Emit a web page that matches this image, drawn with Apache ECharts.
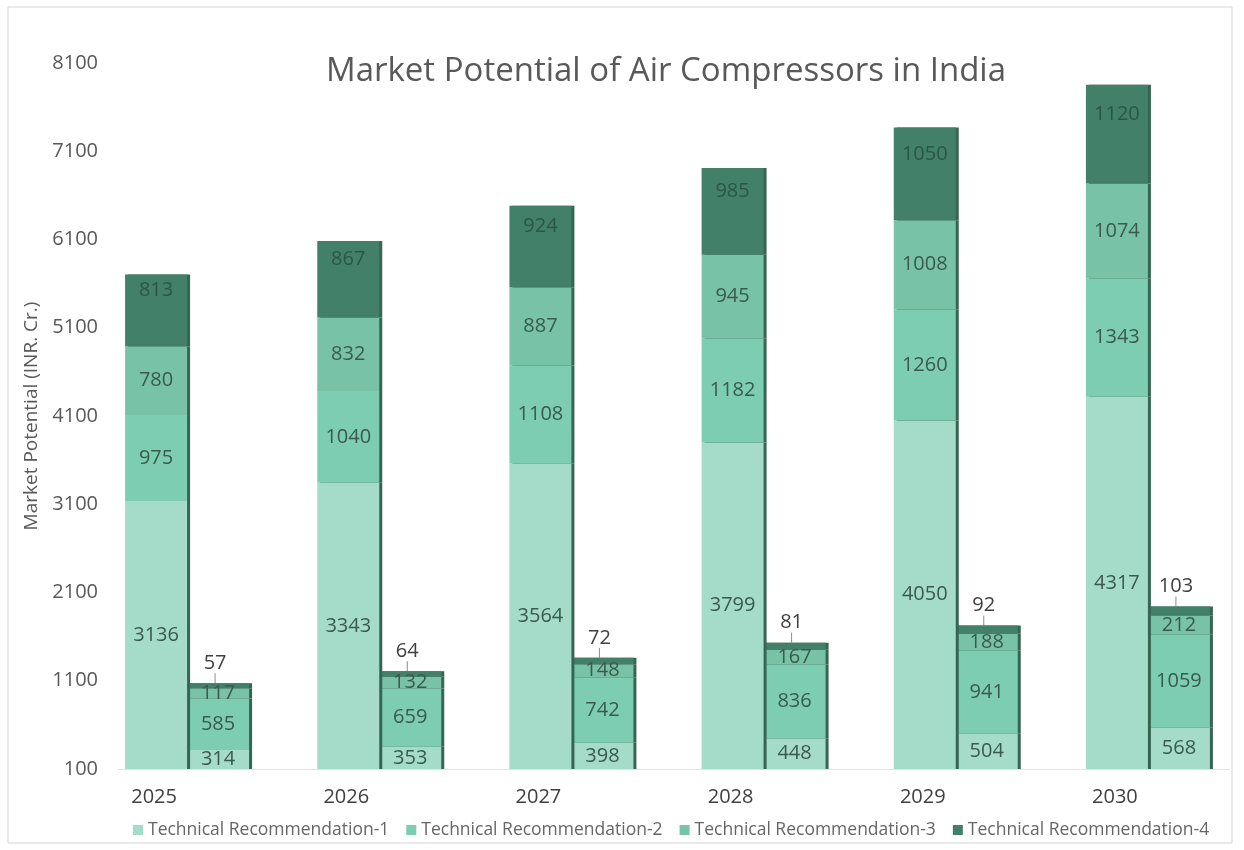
<!DOCTYPE html>
<html>
<head>
<meta charset="utf-8">
<script src="https://cdn.jsdelivr.net/npm/echarts@6/dist/echarts.min.js"></script>
<style>
html, body { margin: 0; padding: 0; background: #fff; }
#chart { width: 1244px; height: 850px; }
</style>
</head>
<body>
<div id="chart"></div>
<script>
// data
var years = ['2025', '2026', '2027', '2028', '2029', '2030'];
var recNames = ['Technical Recommendation-1', 'Technical Recommendation-2', 'Technical Recommendation-3', 'Technical Recommendation-4'];

// tall stack (left bar of each year)
var mainRec1 = [3136, 3343, 3564, 3799, 4050, 4317];
var mainRec2 = [975, 1040, 1108, 1182, 1260, 1343];
var mainRec3 = [780, 832, 887, 945, 1008, 1074];
var mainRec4 = [813, 867, 924, 985, 1050, 1120];

// short stack (right bar of each year)
var sideRec1 = [314, 353, 398, 448, 504, 568];
var sideRec2 = [585, 659, 742, 836, 941, 1059];
var sideRec3 = [117, 132, 148, 167, 188, 212];
var sideRec4 = [57, 64, 72, 81, 92, 103];

var yMin = 100, yMax = 8100, yStep = 1000;

(function() {
    var chart = echarts.init(document.getElementById('chart'));
    var font = '"Open Sans", "Liberation Sans", sans-serif';
    var colors = ['#a5dcc9', '#7ccdb1', '#78c3a8', '#43806a'];

    function bar(i, stack, data, label, z) {
        return {
            type: 'bar',
            name: recNames[i],
            stack: stack,
            data: data,
            z: z,
            barWidth: 62,
            barGap: '0%',
            itemStyle: {
                color: colors[i],
                shadowColor: '#366553',
                shadowOffsetX: 3,
                shadowBlur: 0
            },
            label: label
        };
    }

    var inLabel = {
        show: true,
        position: 'inside',
        color: '#3a5a4e',
        fontSize: 20,
        fontFamily: font
    };
    var darkLabel = {
        show: true,
        position: 'inside',
        offset: [0, -20],
        color: '#2b5646',
        fontSize: 20,
        fontFamily: font
    };
    var topLabel = {
        show: true,
        position: 'top',
        distance: 6,
        color: '#404040',
        fontSize: 20,
        fontFamily: font
    };

    var sideTop = bar(3, 'side', sideRec4, topLabel, 2);
    sideTop.labelLayout = { dx: -3, dy: -4 };
    sideTop.labelLine = { show: true, lineStyle: { color: '#8c8c8c', width: 1 } };

    var option = {
        backgroundColor: '#fff',
        animation: false,
        color: colors,
        title: {
            text: 'Market Potential of Air Compressors in India',
            left: 661,
            textAlign: 'center',
            top: 50,
            textStyle: { fontFamily: font, fontSize: 33, fontWeight: 'normal', color: '#595959' }
        },
        legend: {
            data: recNames,
            bottom: 6,
            left: 128,
            itemWidth: 10,
            itemHeight: 10,
            itemGap: 17,
            icon: 'rect',
            textStyle: { fontFamily: font, fontSize: 17.5, color: '#666666' }
        },
        grid: { left: 91, top: 63, width: 1160, bottom: 81 },
        xAxis: {
            type: 'category',
            data: years,
            axisLine: { show: false },
            axisTick: { show: false },
            axisLabel: {
                margin: 18,
                padding: [0, 66, 0, 0],
                fontFamily: font,
                fontSize: 20,
                color: '#404040'
            }
        },
        yAxis: {
            type: 'value',
            min: yMin,
            max: yMax,
            interval: yStep,
            offset: -15,
            name: 'Market Potential (INR. Cr.)',
            nameLocation: 'middle',
            nameGap: 51,
            nameTextStyle: { fontFamily: font, fontSize: 19, color: '#595959' },
            axisLine: { show: false },
            axisTick: { show: false },
            splitLine: { show: false },
            axisLabel: {
                margin: 8,
                fontFamily: font,
                fontSize: 20,
                color: '#595959',
                formatter: function(v) { return String(v); }
            }
        },
        graphic: [
            {
                type: 'rect',
                shape: { x: 8, y: 7, width: 1224, height: 836 },
                style: { fill: 'none', stroke: '#d4d4d4', lineWidth: 1 },
                silent: true
            },
            {
                type: 'line',
                shape: { x1: 118, y1: 769.5, x2: 1230, y2: 769.5 },
                style: { stroke: '#e3e3e3', lineWidth: 1 },
                silent: true
            }
        ],
        series: [
            bar(0, 'main', mainRec1, inLabel, 3),
            bar(1, 'main', mainRec2, inLabel, 3),
            bar(2, 'main', mainRec3, inLabel, 3),
            bar(3, 'main', mainRec4, darkLabel, 3),
            bar(0, 'side', sideRec1, inLabel, 2),
            bar(1, 'side', sideRec2, inLabel, 2),
            bar(2, 'side', sideRec3, inLabel, 2),
            sideTop
        ]
    };

    chart.setOption(option);
    window.addEventListener('resize', function() {
        chart.resize();
    });
})();
</script>
</body>
</html>
